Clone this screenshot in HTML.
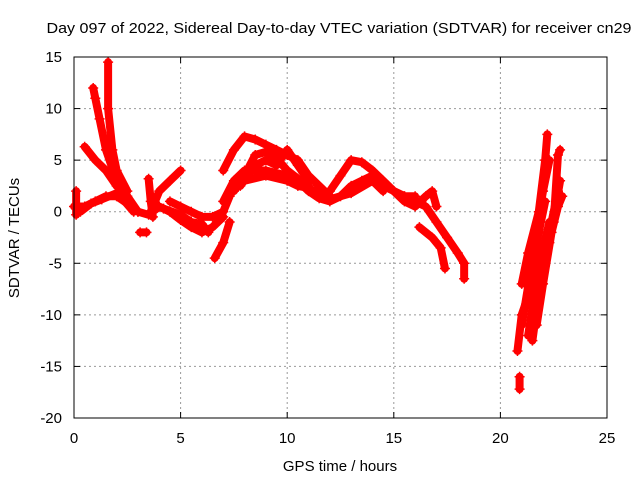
<!DOCTYPE html>
<html><head><meta charset="utf-8"><style>
body{margin:0;background:#fff}
svg{display:block;font-family:"Liberation Sans",sans-serif}
</style></head><body>
<svg id="chart" width="640" height="480" viewBox="0 0 640 480">
<text x="339" y="33" font-size="15" text-anchor="middle" textLength="585" lengthAdjust="spacingAndGlyphs">Day 097 of 2022, Sidereal Day-to-day VTEC variation (SDTVAR) for receiver cn29</text>
<text x="340" y="471" font-size="15" text-anchor="middle">GPS time / hours</text>
<text transform="translate(19,238) rotate(-90)" font-size="15" text-anchor="middle">SDTVAR / TECUs</text>
<g id="grid"></g><g id="ticks"></g><g id="marks"></g>
<rect x="74" y="57" width="533" height="361" fill="none" stroke="#000" stroke-width="1"/>
</svg>
<script>
const xTicks=[0,5,10,15,20,25];
const yTicks=[15,10,5,0,-5,-10,-15,-20];
const trackA=[[0.1,-0.3],[0.1,0.7],[0.1,2]];
const trackB=[[0.5,6.3],[1,5],[1.5,4],[2,2.5],[2.5,1.5],[3,0]];
const trackC=[[0.9,12],[1.0,11],[1.2,9],[1.5,6],[2,3],[2.5,1]];
const trackD=[[1.6,14.5],[1.6,10],[1.8,6],[2,4],[2.5,2]];
const trackE=[[0,0.5],[0.5,0.5],[1,1],[1.5,1.5],[2,1.5],[2.5,0.8],[3,0],[3.5,-0.3],[4,0.5],[4.5,0],[5,-0.8],[5.5,-1.5],[6,-2],[6.5,-1.5],[7,-0.5]];
const trackE2=[[0.3,0],[0.8,0.8],[1.3,1.2],[2,1.8],[2.3,1.2],[2.8,0]];
const trackF=[[3.6,0],[4,2],[4.5,3],[5,4]];
const trackG=[[3.1,-2],[3.4,-2]];
const trackH=[[3.5,3.2],[3.6,1],[3.7,-0.5]];
const trackI=[[4.5,1],[5,0.5],[5.5,0],[6,-0.5],[6.5,-0.5],[7,0],[7.3,1.5]];
const trackI2=[[4.2,0.3],[5,-0.3],[5.5,-1],[6,-1.2],[6.3,-2]];
const trackJ=[[6.6,-4.5],[7,-3],[7.3,-1]];
const trackK=[[7,1],[7.5,3],[8,4],[9,4],[10,3.5],[10.5,3],[11,2],[11.5,1.3],[12,1],[12.5,1.5],[13,2.5],[13.5,3],[14,3.5],[14.5,2.5],[15,2],[15.5,1.5],[16,1.5]];
const trackK2=[[8,3],[9,3.5],[10,3],[10.5,2.5],[11,2.3],[12,1.2],[13,1.8],[14,3],[14.5,2]];
const trackL=[[7,4],[7.5,6],[8,7.3],[8.5,7],[9,6.5],[9.5,6],[10,5.5],[10.5,5],[11,3.5],[11.5,2.5],[12,1.5]];
const trackM=[[7.5,2],[8,3.5],[8.5,5.5],[9,5.8],[9.5,5.2],[10,4],[10.5,3.2],[11,2.5]];
const trackM2=[[7.8,2.5],[8.5,4.5],[9,5],[9.5,4.5],[10,6],[10.5,4.5],[11,3]];
const trackN=[[12,2],[12.5,3.5],[13,5],[13.5,4.8],[14,4],[14.5,3],[15,2],[15.5,1.5],[16,1],[16.5,0.5],[17,-1],[17.5,-2.5],[18,-4],[18.3,-5]];
const trackO=[[15,2],[15.5,1],[16,0.5],[16.5,1.5],[16.8,2],[17,0.5]];
const trackP=[[16.2,-1.5],[16.8,-2.5],[17.2,-3.5],[17.4,-5.5]];
const trackQ=[[18.3,-5],[18.3,-6.5]];
const trackR=[[20.8,-13.5],[21,-10],[21.5,-7],[22,-3.5],[22.3,-1]];
const trackS=[[20.9,-17.2],[20.9,-16]];
const trackT=[[21,-7],[21.3,-4],[21.8,0],[22.1,5],[22.2,7.5]];
const trackU=[[21.3,-12],[21.6,-8],[22,-5],[22.4,-1],[22.7,2]];
const trackV=[[21.5,-12.5],[21.8,-8],[22.3,-3],[22.8,3]];
const trackW=[[22.5,-1],[22.7,5.5],[22.8,6]];
const trackX=[[21.2,-9],[21.5,-4],[22,2],[22.3,5]];
const trackY=[[21.0,-11],[21.4,-6],[21.8,-2],[22.1,1]];
const trackZ=[[21.7,-11],[22,-7],[22.4,-2],[22.7,0.5],[22.9,1.5]];
const tracks=[trackA,trackB,trackC,trackD,trackE,trackE2,trackF,trackG,trackH,trackI,trackI2,trackJ,trackK,trackK2,trackL,trackM,trackM2,trackN,trackO,trackP,trackQ,trackR,trackS,trackT,trackU,trackV,trackW,trackX,trackY,trackZ];
const NS="http://www.w3.org/2000/svg";
const X=t=>74+t*533/25, Y=v=>57+(15-v)*361/35;
const grid=document.getElementById('grid'),ticks=document.getElementById('ticks'),marks=document.getElementById('marks');
function mk(tag,a,p){const e=document.createElementNS(NS,tag);for(const k in a)e.setAttribute(k,a[k]);p.appendChild(e);return e;}
xTicks.forEach(t=>{
  if(t>0&&t<25){const g=mk('line',{x1:X(t),x2:X(t),y1:57,y2:418,stroke:'#999','stroke-dasharray':'2,3'},grid);
  
  }
  mk('line',{x1:X(t),x2:X(t),y1:418,y2:412,stroke:'#000'},ticks);
  mk('line',{x1:X(t),x2:X(t),y1:57,y2:63,stroke:'#000'},ticks);
  const l=mk('text',{x:X(t),y:443,'font-size':15,'text-anchor':'middle'},ticks);l.textContent=t;
  
  
});
yTicks.forEach(v=>{
  if(v<15&&v>-20){const g=mk('line',{x1:74,x2:607,y1:Y(v),y2:Y(v),stroke:'#999','stroke-dasharray':'2,3'},grid);
  
  }
  mk('line',{x1:74,x2:80,y1:Y(v),y2:Y(v),stroke:'#000'},ticks);
  mk('line',{x1:601,x2:607,y1:Y(v),y2:Y(v),stroke:'#000'},ticks);
  const l=mk('text',{x:62,y:Y(v)+5,'font-size':15,'text-anchor':'end'},ticks);l.textContent=v;
  
  
});
tracks.forEach(tr=>{
  const pl=mk('polyline',{points:tr.map(p=>X(p[0])+','+Y(p[1])).join(' '),fill:'none',stroke:'#f00','stroke-width':8,'stroke-linejoin':'round','stroke-linecap':'round'},marks);
  
  
  tr.forEach(p=>{
    const m=mk('path',{d:`M${X(p[0])-5},${Y(p[1])}h10M${X(p[0])},${Y(p[1])-5}v10`,stroke:'#f00','stroke-width':1.5},marks);
    
    
  });
});
</script>
</body></html>
